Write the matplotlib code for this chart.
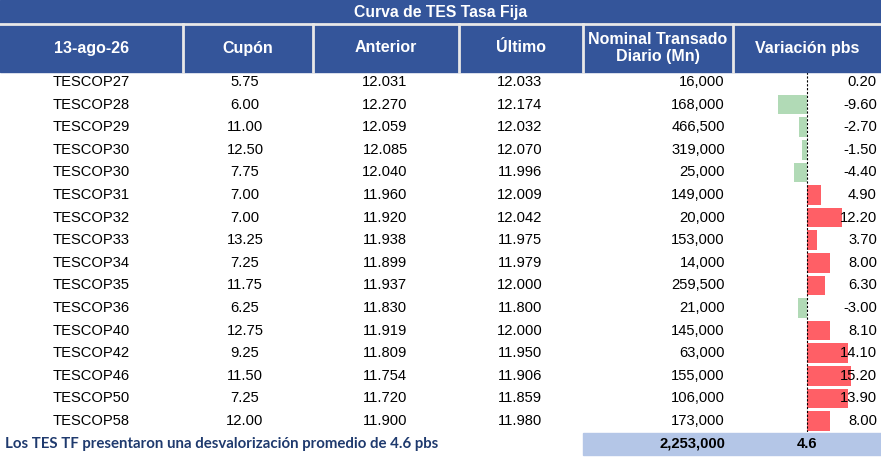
import numpy as np
import matplotlib
matplotlib.use("Agg")
import matplotlib.pyplot as plt
from matplotlib.patches import Rectangle

# Table data
fecha = "13-ago-26"
bonos = ["TESCOP27", "TESCOP28", "TESCOP29", "TESCOP30", "TESCOP30", "TESCOP31",
         "TESCOP32", "TESCOP33", "TESCOP34", "TESCOP35", "TESCOP36", "TESCOP40",
         "TESCOP42", "TESCOP46", "TESCOP50", "TESCOP58"]
cupon = [5.75, 6.00, 11.00, 12.50, 7.75, 7.00, 7.00, 13.25, 7.25, 11.75, 6.25,
         12.75, 9.25, 11.50, 7.25, 12.00]
anterior = [12.031, 12.270, 12.059, 12.085, 12.040, 11.960, 11.920, 11.938, 11.899,
            11.937, 11.830, 11.919, 11.809, 11.754, 11.720, 11.900]
ultimo = [12.033, 12.174, 12.032, 12.070, 11.996, 12.009, 12.042, 11.975, 11.979,
          12.000, 11.800, 12.000, 11.950, 11.906, 11.859, 11.980]
nominal = [16000, 168000, 466500, 319000, 25000, 149000, 20000, 153000, 14000,
           259500, 21000, 145000, 63000, 155000, 106000, 173000]
variacion = [0.20, -9.60, -2.70, -1.50, -4.40, 4.90, 12.20, 3.70, 8.00, 6.30,
             -3.00, 8.10, 14.10, 15.20, 13.90, 8.00]

W, H = 881, 457
BLUE = "#34559A"
RED = "#FF5F66"
GREEN = "#B1DAB6"
FOOT = "#B4C6E7"
FONT = "Liberation Sans"

fig = plt.figure(figsize=(W / 100, H / 100), dpi=100)
ax = fig.add_axes([0, 0, 1, 1])
ax.set_xlim(0, W)
ax.set_ylim(H, 0)
ax.axis("off")
ax.patch.set_alpha(0)
ax.set_zorder(2)  # text layer above the bars

# layout (pixels)
col_edges = [0, 183, 313, 459, 583, 733, W]
row0 = 82
row_h = 22.6
n = len(bonos)

# header band
ax.add_patch(Rectangle((0, 0), W, 72, color=BLUE, zorder=1))
ax.plot([0, W], [23.5, 23.5], color="#E8E8E8", lw=2, zorder=2)
for x in col_edges[1:-1]:
    ax.plot([x, x], [24, 72], color="#E8E8E8", lw=2, zorder=2)

ax.text(W / 2, 12, "Curva de TES Tasa Fija", color="white", fontsize=11.3,
        fontweight="bold", ha="center", va="center", family=FONT, zorder=3)
headers = [fecha, "Cupón", "Anterior", "Último", "Nominal Transado\nDiario (Mn)", "Variación pbs"]
for i, h in enumerate(headers):
    cx = (col_edges[i] + col_edges[i + 1]) / 2
    ax.text(cx, 48, h, color="white", fontsize=11.5, fontweight="bold",
            ha="center", va="center", family=FONT, linespacing=1.25, zorder=3)

# bars for the variation column
bx0, bx1 = 733, W
zero_x = 806.5
px_per_unit = 2.95
bar_top = row0 - row_h / 2
bar_bot = row0 + (n - 0.5) * row_h
bax = fig.add_axes([bx0 / W, 1 - bar_bot / H, (bx1 - bx0) / W, (bar_bot - bar_top) / H])
bax.set_zorder(1)
bax.set_xlim(-(zero_x - bx0) / px_per_unit, (bx1 - zero_x) / px_per_unit)
bax.set_ylim(n - 0.5, -0.5)
bax.axis("off")
bax.patch.set_alpha(0)
colors = [RED if v > 0 else GREEN for v in variacion]
bax.barh(np.arange(n), variacion, height=0.86, color=colors, zorder=1)
bax.axvline(0, color="black", lw=0.8, ls=(0, (2, 1.5)), zorder=2)

# row text
for i in range(n):
    y = row0 + i * row_h
    kw = dict(fontsize=10.6, va="center", family=FONT, color="black", zorder=3)
    ax.text(91, y, bonos[i], ha="center", **kw)
    ax.text(245, y, f"{cupon[i]:.2f}", ha="center", **kw)
    ax.text(385, y, f"{anterior[i]:.3f}", ha="center", **kw)
    ax.text(520, y, f"{ultimo[i]:.3f}", ha="center", **kw)
    ax.text(725, y, f"{nominal[i]:,}", ha="right", **kw)
    ax.text(877, y, f"{variacion[i]:.2f}", ha="right", **kw)

# footer
fy = row0 + n * row_h
ax.add_patch(Rectangle((583, fy - 11), W - 583, 22, color=FOOT, zorder=1))
ax.text(725, fy, f"{sum(nominal):,}", ha="right", va="center", fontsize=10.6,
        fontweight="bold", family=FONT, zorder=3)
ax.text(807, fy, f"{np.mean(variacion):.1f}", ha="center", va="center", fontsize=10.6,
        fontweight="bold", family=FONT, zorder=3)
ax.text(5, fy, f"Los TES TF presentaron una desvalorización promedio de {np.mean(variacion):.1f} pbs",
        ha="left", va="center", fontsize=10.8, fontweight="bold", family="Lato",
        color="#1F3A6E", zorder=3)

fig.savefig("out.png", dpi=100)
